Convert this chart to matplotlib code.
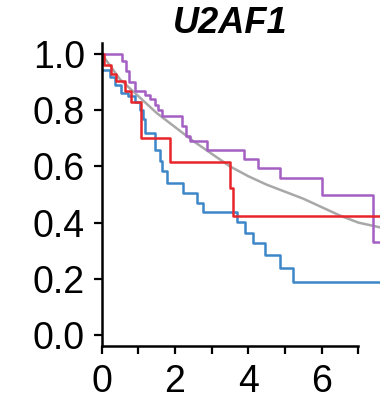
import matplotlib
matplotlib.use("Agg")
import matplotlib.pyplot as plt

# Kaplan-Meier style step curves (time in years, survival fraction)
purple_t = [0, 0.55, 0.65, 0.75, 0.9, 1.18, 1.31, 1.45, 1.54, 1.64, 2.18, 2.3, 2.42,
            2.88, 3.89, 4.27, 4.86, 6.0, 7.39, 7.7]
purple_s = [1.0, 0.975, 0.94, 0.90, 0.87, 0.855, 0.84, 0.82, 0.80, 0.78, 0.745, 0.71, 0.69,
            0.66, 0.625, 0.593, 0.558, 0.498, 0.332, 0.332]

red_t = [0, 0.05, 0.26, 0.40, 0.63, 0.81, 1.07, 1.86, 3.50, 3.59, 7.7]
red_s = [1.0, 0.96, 0.93, 0.905, 0.87, 0.83, 0.70, 0.617, 0.525, 0.423, 0.423]

blue_t = [0, 0.22, 0.35, 0.53, 0.72, 0.90, 1.04, 1.13, 1.18, 1.45, 1.59, 1.65, 1.77,
          2.23, 2.59, 2.77, 3.68, 3.91, 4.13, 4.45, 4.86, 5.23, 7.7]
blue_s = [0.945, 0.92, 0.89, 0.86, 0.85, 0.83, 0.80, 0.77, 0.72, 0.66, 0.62, 0.585, 0.54,
          0.504, 0.469, 0.437, 0.403, 0.362, 0.326, 0.285, 0.237, 0.19, 0.19]

# smooth reference curve (gray)
gray_t = [0, 0.5, 1.0, 1.5, 2.0, 2.5, 3.0, 3.5, 4.0, 4.5, 5.0, 5.5, 6.0, 6.5, 7.0, 7.7]
gray_s = [1.0, 0.91, 0.85, 0.79, 0.74, 0.69, 0.645, 0.60, 0.565, 0.535, 0.51, 0.485,
          0.455, 0.425, 0.40, 0.38]

title = "U2AF1"
xticks = [0, 1, 2, 3, 4, 5, 6, 7]
xticklabels = ["0", "", "2", "", "4", "", "6", ""]
yticks = [0.0, 0.2, 0.4, 0.6, 0.8, 1.0]

plt.rcParams['font.family'] = ['Liberation Sans', 'DejaVu Sans']

fig = plt.figure(figsize=(3.86, 4.04), dpi=100)
ax = fig.add_axes([0.2635, 0.143, 0.722, 0.751])

lw = 1.8
ax.plot(gray_t, gray_s, color='#a8a8a8', lw=lw)
ax.step(blue_t, blue_s, where='post', color='#3d87c9', lw=lw)
ax.step(purple_t, purple_s, where='post', color='#a45fc2', lw=lw)
ax.step(red_t, red_s, where='post', color='#e8252b', lw=lw)

ax.set_xlim(0, 7.6)
ax.set_ylim(-0.04, 1.04)
ax.spines['top'].set_visible(False)
ax.spines['right'].set_visible(False)
ax.spines['bottom'].set_bounds(0, 7)
for s in ['left', 'bottom']:
    ax.spines[s].set_linewidth(1.8)

ax.set_xticks(xticks)
ax.set_xticklabels(xticklabels)
ax.set_yticks(yticks)
ax.set_yticklabels([f"{v:.1f}" for v in yticks])
ax.tick_params(axis='x', direction='out', length=6, width=1.6, labelsize=27, pad=7)
ax.tick_params(axis='y', direction='out', length=6, width=1.6, labelsize=27, pad=6)

ax.text(3.5, 1.075, title, ha='center', va='baseline', fontsize=26,
        fontweight='bold', fontstyle='italic')

fig.savefig("out.png", dpi=100)
